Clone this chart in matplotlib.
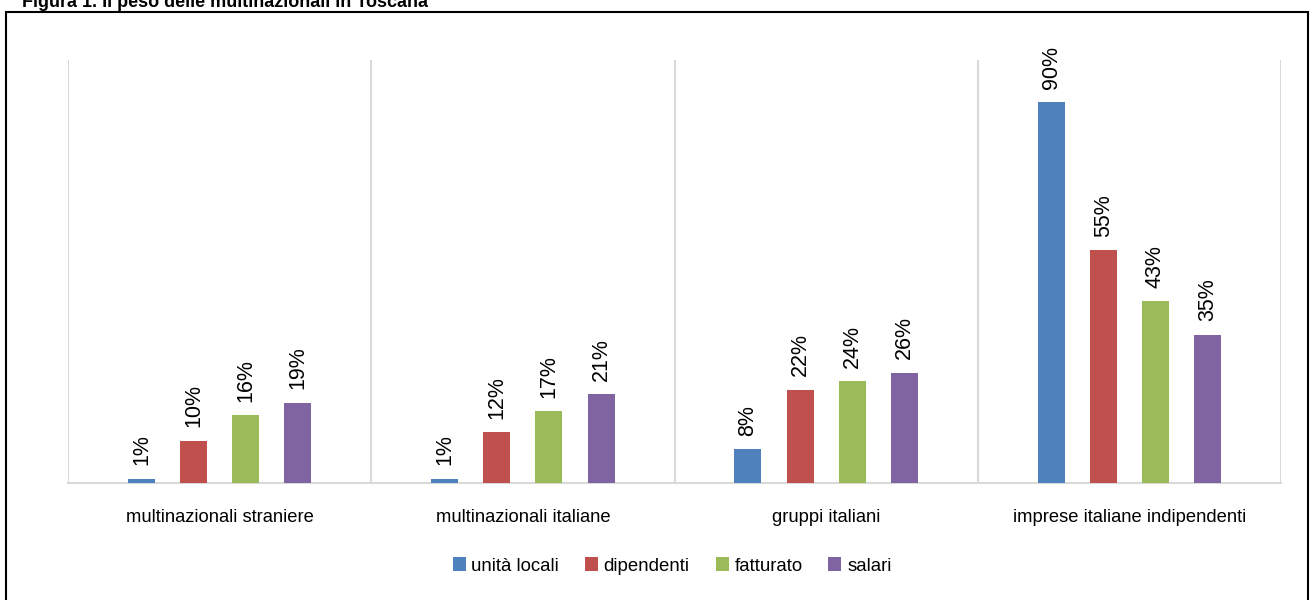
import numpy as np
import matplotlib
matplotlib.use("Agg")
import matplotlib.pyplot as plt
from matplotlib.patches import Rectangle

plt.rcParams['font.family'] = ['Liberation Sans Narrow', 'Liberation Sans', 'DejaVu Sans']

categories = ["multinazionali straniere", "multinazionali italiane",
              "gruppi italiani", "imprese italiane indipendenti"]
series = ["unità locali", "dipendenti", "fatturato", "salari"]
unita_locali = [1, 1, 8, 90]
dipendenti = [10, 12, 22, 55]
fatturato = [16, 17, 24, 43]
salari = [19, 21, 26, 35]
colors = ["#4f81bd", "#c0504d", "#9bbb59", "#8064a2"]

values = [unita_locali, dipendenti, fatturato, salari]

fig = plt.figure(figsize=(13.1, 6), dpi=100)
ax = fig.add_axes([68 / 1310, 117 / 600, (1281 - 68) / 1310, (483 - 60) / 600])

x = np.arange(len(categories))
step = 0.172
width = 0.089
for i, (name, vals) in enumerate(zip(series, values)):
    pos = x + (i - 1.5) * step
    ax.bar(pos, vals, width, color=colors[i], label=name, zorder=3)
    for p, v in zip(pos, vals):
        ax.text(p, v + 3.2, f"{v}%", rotation=90, ha="center", va="bottom",
                fontsize=15.5, color="#000000")

ax.set_xlim(-0.5, len(categories) - 0.5)
ax.set_ylim(0, 100)
ax.set_yticks([])
ax.set_xticks(x)
ax.set_xticklabels(categories, fontsize=13.2)
ax.tick_params(axis="x", length=0, pad=19)
for b in np.arange(-0.5, len(categories), 1.0):
    ax.axvline(b, color="#d9d9d9", lw=1.5, zorder=1)
for s in ["top", "right", "left"]:
    ax.spines[s].set_visible(False)
ax.spines["bottom"].set_color("#d9d9d9")
ax.spines["bottom"].set_linewidth(1.5)

ax.legend(loc="center", bbox_to_anchor=(672 / 1310, 1 - 566 / 600),
          bbox_transform=fig.transFigure, ncol=4, frameon=False,
          fontsize=13.4, handlelength=0.7, handleheight=0.7,
          handletextpad=0.3, columnspacing=1.4)

# frame around the chart area
fig.patches.append(Rectangle((6 / 1310, -0.02), (1308 - 6) / 1310, 1.02 - 12 / 600,
                             transform=fig.transFigure, fill=False,
                             edgecolor="black", lw=1.5))
fig.text(22 / 1310, 1 - 7 / 600, "Figura 1. Il peso delle multinazionali in Toscana",
         fontsize=13, fontweight="bold", ha="left", va="baseline")

fig.savefig("out.png", dpi=100)
